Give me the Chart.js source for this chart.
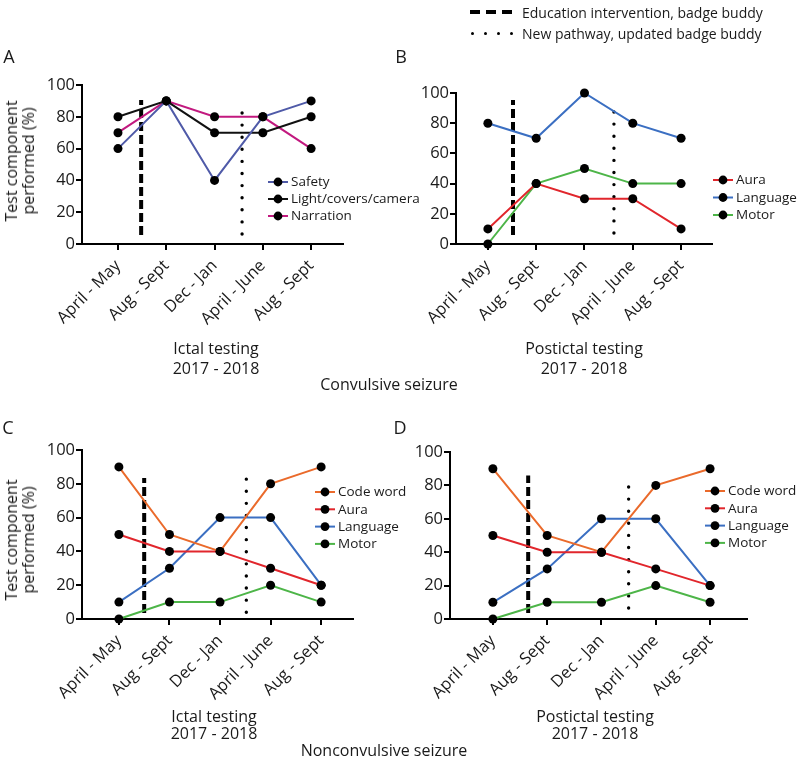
<!DOCTYPE html>
<html>
<head>
<meta charset="utf-8">
<script src="https://cdn.jsdelivr.net/npm/chart.js@4/dist/chart.umd.min.js"></script>
<style>
  html, body { margin:0; padding:0; background:#fff; }
  body { width:799px; height:758px; position:relative; overflow:hidden; font-family:'Open Sans', sans-serif; color:#1a1a1a; }
  canvas { position:absolute; }
  .t { position:absolute; white-space:nowrap; transform:translate(-50%,-50%); text-align:center; }
  .letter { font-size:18px; }
  .ytitle { font-size:16px; line-height:17px; transform:translate(-50%,-50%) rotate(-90deg); }
  .xtitle { font-size:16px; }
  .grp { font-size:16px; }
  .leg { position:absolute; font-size:14px; white-space:nowrap; transform:translateY(-50%); }
  .mk { position:absolute; background:#000; }
</style>
</head>
<body>
<canvas id="cA" width="440" height="340" style="left:0;top:0;width:440px;height:340px"></canvas>
<canvas id="cB" width="399" height="340" style="left:400px;top:0;width:399px;height:340px"></canvas>
<canvas id="cC" width="440" height="330" style="left:0;top:380px;width:440px;height:330px"></canvas>
<canvas id="cD" width="399" height="330" style="left:400px;top:380px;width:399px;height:330px"></canvas>

<div class="t letter" style="left:9px;top:56px">A</div>
<div class="t letter" style="left:401px;top:56px">B</div>
<div class="t letter" style="left:8px;top:427px">C</div>
<div class="t letter" style="left:400px;top:427px">D</div>

<div class="t ytitle" style="left:20px;top:161px">Test component<br>performed (%)</div>
<div class="t ytitle" style="left:20px;top:540px">Test component<br>performed (%)</div>

<div class="t xtitle" style="left:216px;top:358px;line-height:20px">Ictal testing<br>2017 - 2018</div>
<div class="t xtitle" style="left:584px;top:358px;line-height:20px">Postictal testing<br>2017 - 2018</div>
<div class="t xtitle" style="left:214px;top:725px;line-height:17px">Ictal testing<br>2017 - 2018</div>
<div class="t xtitle" style="left:595px;top:725px;line-height:17px">Postictal testing<br>2017 - 2018</div>

<div class="t grp" style="left:389px;top:384px">Convulsive seizure</div>
<div class="t grp" style="left:384px;top:750px">Nonconvulsive seizure</div>

<div class="leg" style="left:522px;top:12px">Education intervention, badge buddy</div>
<div class="leg" style="left:522px;top:33px">New pathway, updated badge buddy</div>
<div id="markers"></div>

<script>
// ---------- DATA ----------
const categories = ['April - May', 'Aug - Sept', 'Dec - Jan', 'April - June', 'Aug - Sept'];
const yTicks = [0, 20, 40, 60, 80, 100];

// Panel A: Convulsive, ictal testing
const aSafety    = [60, 90, 40, 80, 90];
const aLight     = [80, 90, 70, 70, 80];
const aNarration = [70, 90, 80, 80, 60];

// Panel B: Convulsive, postictal testing
const bAura     = [10, 40, 30, 30, 10];
const bLanguage = [80, 70, 100, 80, 70];
const bMotor    = [0, 40, 50, 40, 40];

// Panel C: Nonconvulsive, ictal testing
const cCodeWord = [90, 50, 40, 80, 90];
const cAura     = [50, 40, 40, 30, 20];
const cLanguage = [10, 30, 60, 60, 20];
const cMotor    = [0, 10, 10, 20, 10];

// Panel D: Nonconvulsive, postictal testing
const dCodeWord = [90, 50, 40, 80, 90];
const dAura     = [50, 40, 40, 30, 20];
const dLanguage = [10, 30, 60, 60, 20];
const dMotor    = [0, 10, 10, 20, 10];

// Intervention markers: [category position, lower %, upper %]
const aEducation = [0.48, 5.7, 90.5];
const aPathway   = [2.57, 6.3, 90];
const bEducation = [0.52, 6, 95.4];
const bPathway   = [2.61, 7.3, 95];
const cEducation = [0.5, 3.5, 83.4];
const cPathway   = [2.52, 4, 83];
const dEducation = [0.65, 3.6, 86];
const dPathway   = [2.5, 6.6, 86];

// ---------- RENDERING ----------
Chart.defaults.font.family = "'Open Sans', sans-serif";
Chart.defaults.color = '#1a1a1a';

const COLORS = {
  safety: '#4f5aa8', light: '#111111', narration: '#c2197f',
  aura: '#e1262c', language: '#3b6fc2', motor: '#4db548', code: '#ea6a2b'
};

const panelLegend = {
  id: 'panelLegend',
  afterDraw(chart, args, opts) {
    const ctx = chart.ctx;
    let y = opts.y;
    chart.data.datasets.forEach(ds => {
      if (ds.isMarker) return;
      ctx.save();
      ctx.strokeStyle = ds.borderColor; ctx.lineWidth = 2;
      ctx.beginPath(); ctx.moveTo(opts.x, y); ctx.lineTo(opts.x + 20, y); ctx.stroke();
      ctx.fillStyle = '#000';
      ctx.beginPath(); ctx.arc(opts.x + 10, y, 4.4, 0, Math.PI * 2); ctx.fill();
      ctx.font = "13.5px 'Open Sans'";
      ctx.fillStyle = '#1a1a1a';
      ctx.textBaseline = 'middle';
      ctx.textAlign = 'left';
      ctx.fillText(ds.label, opts.x + 23, y + 0.5);
      ctx.restore();
      y += opts.step;
    });
  }
};

function seriesDS(label, values, color) {
  return {
    label, data: values.map((v, i) => ({ x: i, y: v })),
    borderColor: color, backgroundColor: '#000', borderWidth: 2,
    pointRadius: 4.5, pointHoverRadius: 4.5, pointBackgroundColor: '#000',
    pointBorderWidth: 0, tension: 0, clip: false
  };
}
function markerDS(m, dotted) {
  return {
    label: dotted ? 'New pathway, updated badge buddy' : 'Education intervention, badge buddy',
    isMarker: true,
    data: [{ x: m[0], y: m[1] }, { x: m[0], y: m[2] }],
    borderColor: '#000', borderWidth: dotted ? 3.4 : 4,
    borderDash: dotted ? [0, 12.1] : [9, 4],
    borderCapStyle: dotted ? 'round' : 'butt',
    pointRadius: 0, clip: false
  };
}

function makePanel(id, g, datasets) {
  new Chart(document.getElementById(id), {
    type: 'line',
    data: { datasets },
    plugins: [panelLegend],
    options: {
      responsive: false, animation: false, devicePixelRatio: 1,
      layout: { padding: { top: g.top, right: g.right, left: 0, bottom: 0 } },
      plugins: { legend: { display: false }, tooltip: { enabled: false },
                 panelLegend: { x: g.legX, y: g.legY, step: g.legStep } },
      scales: {
        x: {
          type: 'linear', min: g.xmin, max: g.xmax,
          afterBuildTicks: s => { s.ticks = categories.map((c, i) => ({ value: i })); },
          afterFit: s => { s.height = g.xh; },
          ticks: { autoSkip: false, minRotation: 45, maxRotation: 45, padding: 6,
                   font: { size: 16.5 }, color: '#1a1a1a',
                   callback: (v) => categories[v] },
          grid: { display: true, drawOnChartArea: false, drawTicks: true, tickLength: 6, color: '#000', lineWidth: 2 },
          border: { display: true, color: '#000', width: 2 }
        },
        y: {
          min: 0, max: 100,
          afterBuildTicks: s => { s.ticks = yTicks.map(v => ({ value: v })); },
          afterFit: s => { s.width = g.yw; },
          ticks: { padding: 1, font: { size: 16.5 }, color: '#1a1a1a' },
          grid: { display: true, drawOnChartArea: false, drawTicks: true, tickLength: 6, color: '#000', lineWidth: 2 },
          border: { display: true, color: '#000', width: 2 }
        }
      }
    }
  });
}

makePanel('cA', { top: 85, right: 97, yw: 82, xh: 96, xmin: -0.745, xmax: 4.66, legX: 268, legY: 182, legStep: 17 }, [
  seriesDS('Safety', aSafety, COLORS.safety),
  seriesDS('Light/covers/camera', aLight, COLORS.light),
  seriesDS('Narration', aNarration, COLORS.narration),
  markerDS(aEducation, false), markerDS(aPathway, true)
]);
makePanel('cB', { top: 93, right: 87, yw: 56, xh: 96, xmin: -0.66, xmax: 4.64, legX: 313, legY: 180, legStep: 17.5 }, [
  seriesDS('Aura', bAura, COLORS.aura),
  seriesDS('Language', bLanguage, COLORS.language),
  seriesDS('Motor', bMotor, COLORS.motor),
  markerDS(bEducation, false), markerDS(bPathway, true)
]);
makePanel('cC', { top: 70, right: 87, yw: 82, xh: 91, xmin: -0.73, xmax: 4.63, legX: 315, legY: 112, legStep: 17.3 }, [
  seriesDS('Code word', cCodeWord, COLORS.code),
  seriesDS('Aura', cAura, COLORS.aura),
  seriesDS('Language', cLanguage, COLORS.language),
  seriesDS('Motor', cMotor, COLORS.motor),
  markerDS(cEducation, false), markerDS(cPathway, true)
]);
makePanel('cD', { top: 72, right: 52, yw: 50, xh: 91, xmin: -0.79, xmax: 4.68, legX: 305, legY: 111, legStep: 17.3 }, [
  seriesDS('Code word', dCodeWord, COLORS.code),
  seriesDS('Aura', dAura, COLORS.aura),
  seriesDS('Language', dLanguage, COLORS.language),
  seriesDS('Motor', dMotor, COLORS.motor),
  markerDS(dEducation, false), markerDS(dPathway, true)
]);

// top legend markers (dashes and dots)
const mk = document.getElementById('markers');
[470, 486, 502].forEach(x => {
  const d = document.createElement('div'); d.className = 'mk';
  d.style.cssText = `left:${x}px;top:10px;width:10px;height:4px`;
  mk.appendChild(d);
});
[472, 485, 498, 511].forEach(x => {
  const d = document.createElement('div'); d.className = 'mk';
  d.style.cssText = `left:${x - 1.5}px;top:${33 - 1.5}px;width:3px;height:3px;border-radius:50%`;
  mk.appendChild(d);
});
</script>
</body>
</html>
